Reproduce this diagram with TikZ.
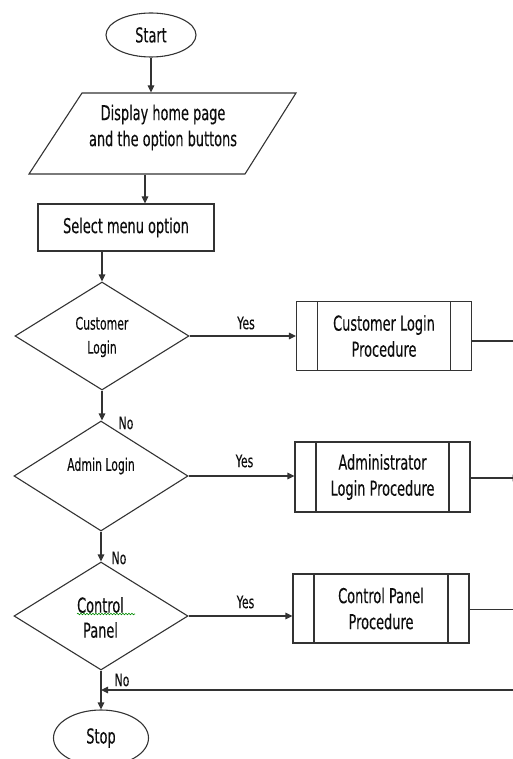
\documentclass[tikz,border=0pt]{standalone}
\usepackage{fontspec}
\setmainfont[FakeStretch=0.63,FakeBold=0.2]{DejaVu Sans}
\usetikzlibrary{shapes.geometric,arrows.meta,decorations.pathmorphing}
\begin{document}
\begin{tikzpicture}[x=1pt,y=-1pt,
  line width=1.1pt,
  color=black!80,
  big/.style={font=\fontsize{20.5}{26}\selectfont, align=center, text=black!95},
  mid/.style={font=\fontsize{20.5}{25}\selectfont, align=center, text=black!95},
  small/.style={font=\fontsize{17.3}{24}\selectfont, align=center, text=black!95},
  terminal/.style={ellipse, draw, inner sep=0pt},
  decision/.style={diamond, draw, inner sep=0pt, minimum width=174pt, minimum height=108pt},
  procbox/.style={rectangle, draw, inner sep=0pt, minimum width=175pt, minimum height=69pt,
    path picture={
      \draw[line width=1.1pt,black!80] ([xshift=21pt]path picture bounding box.north west) -- ([xshift=21pt]path picture bounding box.south west);
      \draw[line width=1.1pt,black!80] ([xshift=-21pt]path picture bounding box.north east) -- ([xshift=-21pt]path picture bounding box.south east);
    }},
  arr/.style={-{Triangle[length=7pt,width=6.5pt]}}
]
\useasboundingbox (0,0) rectangle (513,759);

% start / stop terminals
\node[terminal, big, minimum width=90pt, minimum height=44pt] (start) at (151,35) {Start};
\node[terminal, big, minimum width=95pt, minimum height=56pt] (stop) at (101,738) {Stop};

% input: parallelogram outline with its text node
\coordinate (pTL) at (82,93);
\coordinate (pTR) at (296,93);
\coordinate (pBR) at (245,174);
\coordinate (pBL) at (29,174);
\draw (pTL) -- (pTR) -- (pBR) -- (pBL) -- cycle;
\node[big, minimum width=214pt, minimum height=81pt, inner sep=0pt] (disp) at (162.5,133.5) {};
\node[big] (dispt) at (163,127.5) {Display home page\\and the option buttons};

% process
\node[rectangle, draw, big, minimum width=176pt, minimum height=47pt] (sel) at (126,227.5) {Select menu option};

% decisions
\node[decision] (d1) at (102,336) {};
\node[small] (d1t) at (102,337) {Customer\\Login};
\node[decision, minimum height=110pt] (d2) at (101,476) {};
\node[small] (d2t) at (101,466) {Admin Login};
\node[decision] (d3) at (101,616) {};
\node[mid] (d3t) at (100.5,617.5) {Control\\Panel};
\draw[green!55!black, line width=0.6pt, decorate,
  decoration={snake, segment length=3pt, amplitude=0.8pt}] (77,614) -- (135,614);

% predefined processes
\node[procbox, big] (p1) at (384,336) {Customer Login\\Procedure};
\node[procbox, big, minimum height=70pt] (p2) at (382.5,477) {Administrator\\Login Procedure};
\node[procbox, big, minimum width=176pt] (p3) at (381,608.5) {Control Panel\\Procedure};

% main flow
\draw[arr] (start.south) -- (start.south |- disp.north);
\draw[arr] ([xshift=-17.5pt]disp.south) -- ([xshift=-17.5pt]disp.south |- sel.north);
\draw[arr] (d1.north |- sel.south) -- (d1.north);
\draw[arr] (d1.south) -- (d1.south |- d2.north);
\draw[arr] (d2.south) -- (d2.north |- d3.north);
\draw[arr] (d3.south) -- (stop.north);

% yes branches
\draw[arr] (d1.east) -- (d1.east -| p1.west);
\draw[arr] (d2.east) -- (d2.east -| p2.west);
\draw[arr] (d3.east) -- (d3.east -| p3.west);
\node[small] (y1) at (246,323) {Yes};
\node[small] (y2) at (244.5,461) {Yes};
\node[small] (y3) at (245.5,602) {Yes};

% outgoing lines towards the shared connector
\draw[arr] ([yshift=-5pt]p1.east) -- ++(48,0);
\draw[arr] ([yshift=-1pt]p2.east) -- ++(49,0);
\draw[arr] ([yshift=-1pt]p3.east) -- ++(51,0);

% return path into the stop terminal
\coordinate (ret) at (530,690);
\draw[arr] (ret) -- (ret -| d3.south);

% no labels
\node[small] (n1) at (126,423) {No};
\node[small] (n2) at (119,558) {No};
\node[small] (n3) at (122,680) {No};
\end{tikzpicture}
\end{document}
